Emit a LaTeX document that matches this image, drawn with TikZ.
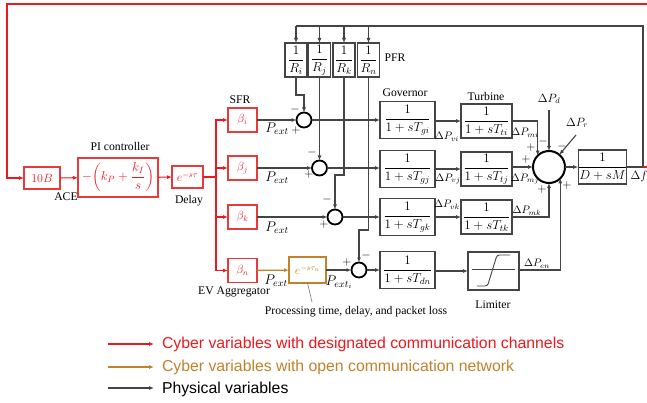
\RequirePackage{fix-cm}
\documentclass[tikz,border=0pt]{standalone}
\usepackage{amsmath}
\usepackage{fontspec}
\setmainfont{Liberation Serif}
\newfontfamily\legendfont{Liberation Sans}
\usetikzlibrary{arrows.meta,calc}

\definecolor{cyber}{RGB}{238,24,30}
\definecolor{cyberbox}{RGB}{232,58,58}
\definecolor{opennet}{RGB}{194,130,42}
\definecolor{phys}{RGB}{68,68,68}

\begin{document}
\begin{tikzpicture}[x=1pt,y=-1pt,
  >={Latex[length=5pt,width=4pt]},
  every node/.style={inner sep=0pt,outer sep=0pt},
  mathfont/.style={font=\fontsize{13}{15}\selectfont},
  smallmath/.style={font=\fontsize{12}{14}\selectfont},
  lblfont/.style={font=\fontsize{11.7}{14}\selectfont},
  legfont/.style={font=\legendfont\fontsize{15.8}{18}\selectfont},
  pline/.style={draw=phys,line width=1.1pt},
  cline/.style={draw=cyber,line width=1.1pt},
  oline/.style={draw=opennet,line width=1.3pt},
  pbox/.style={draw=phys,line width=1.1pt,fill=white,mathfont},
  cbox/.style={draw=cyberbox,line width=1.1pt,fill=white,text=cyber,smallmath},
  obox/.style={draw=opennet,line width=1.1pt,fill=white,text=opennet,smallmath},
  smallsum/.style={circle,draw=black,line width=1.8pt,fill=white,minimum size=15pt},
  bigsum/.style={circle,draw=black,line width=2pt,fill=white,minimum size=32pt},
  sgn/.style={font=\fontsize{12}{14}\selectfont},
  pext/.style={font=\fontsize{14}{16}\selectfont},
  dplbl/.style={font=\fontsize{10.8}{12}\selectfont},
  dlbl/.style={font=\fontsize{12}{14}\selectfont},
]
\useasboundingbox (0,0) rectangle (647,403);
\clip (0,0) rectangle (647,403);
\fill[white] (0,0) rectangle (647,403);

% ---------- secondary control chain ----------
\node[cbox,minimum width=36,minimum height=22] (tenB) at (42,178) {$10B$};
\node[cbox,font=\fontsize{13}{15}\selectfont,minimum width=80,minimum height=39] (pi) at (118,177.5)
  {$-\biggl(k_P+\dfrac{k_I}{s}\biggr)$};
\node[cbox,minimum width=31,minimum height=22] (delay) at (187.5,177) {$e^{-s\tau}$};

\node[lblfont] (aceL) at (66,197) {ACE};
\node[lblfont] (piL) at (120,146.5) {PI controller};
\node[lblfont] (delayL) at (189,201) {Delay};

% participation factors
\node[cbox,minimum width=29,minimum height=24] (bi) at (242.5,120) {$\beta_i$};
\node[cbox,minimum width=29,minimum height=24] (bj) at (242.5,168) {$\beta_j$};
\node[cbox,minimum width=29,minimum height=24] (bk) at (242.5,217) {$\beta_k$};
\node[cbox,minimum width=29,minimum height=24] (bn) at (242.5,270.5) {$\beta_n$};
\node[lblfont] (sfrL) at (240,100) {SFR};
\node[lblfont] (evL) at (234,292) {EV Aggregator};

% EV communication block
\node[obox,minimum width=37,minimum height=26] (ev) at (307.5,270) {$e^{-s\tau_n}$};
\node[lblfont] (procL) at (356,312) {Processing time, delay, and packet loss};
\coordinate (ptr) at (312,302);

% ---------- summing junctions ----------
\node[smallsum] (si) at (304,120) {};
\node[smallsum] (sj) at (319.5,168) {};
\node[smallsum] (sk) at (335,217) {};
\node[smallsum] (sn) at (359,270) {};

% droop blocks
\node[pbox,minimum width=22,minimum height=34] (Ri) at (296,60) {$\dfrac{1}{R_i}$};
\node[pbox,minimum width=22,minimum height=34] (Rj) at (319.5,60) {$\dfrac{1}{R_j}$};
\node[pbox,minimum width=22,minimum height=34] (Rk) at (344,60) {$\dfrac{1}{R_k}$};
\node[pbox,minimum width=22,minimum height=34] (Rn) at (368.5,60) {$\dfrac{1}{R_n}$};
\node[lblfont] (pfrL) at (395,58) {PFR};

% governors
\node[pbox,minimum width=55,minimum height=37] (gi) at (407.5,120) {$\dfrac{1}{1+sT_{gi}}$};
\node[pbox,minimum width=55,minimum height=37] (gj) at (407.5,169) {$\dfrac{1}{1+sT_{gj}}$};
\node[pbox,minimum width=55,minimum height=37] (gk) at (407.5,217) {$\dfrac{1}{1+sT_{gk}}$};
\node[pbox,minimum width=55,minimum height=37] (gn) at (407.5,270) {$\dfrac{1}{1+sT_{dn}}$};
\node[lblfont] (govL) at (405,93) {Governor};

% turbines
\node[pbox,minimum width=51,minimum height=34] (ti) at (486.5,121) {$\dfrac{1}{1+sT_{ti}}$};
\node[pbox,minimum width=51,minimum height=34] (tj) at (486.5,169) {$\dfrac{1}{1+sT_{tj}}$};
\node[pbox,minimum width=51,minimum height=34] (tk) at (486.5,217) {$\dfrac{1}{1+sT_{tk}}$};
\node[lblfont] (turL) at (486,96) {Turbine};

% limiter
\node[pbox,minimum width=51,minimum height=38] (lim) at (493.5,271) {};
\draw[phys,line width=0.8pt] ($(lim.center)+(-21.5,-2)$) -- ($(lim.center)+(21.5,-2)$);
\draw[phys,line width=0.9pt,rounded corners=2.5pt]
  ($(lim.center)+(-16.5,15)$) -- ($(lim.center)+(-6,15)$)
  -- ($(lim.center)+(3.5,-16)$) -- ($(lim.center)+(16.5,-16)$);
\node[lblfont] (limL) at (493,305) {Limiter};

% power balance
\node[bigsum] (sum) at (549,167) {};
\node[pbox,minimum width=47,minimum height=34] (plant) at (602.5,167) {$\dfrac{1}{D+sM}$};

% ---------- physical connections ----------
\draw[pline,->] (bi) -- (si);
\draw[pline,->] (bj) -- (sj);
\draw[pline,->] (bk) -- (sk);
\draw[pline,->] (ev) -- (sn);

\draw[pline,->] (si) -- (gi.west |- si);
\draw[pline,->] (sj) -- (gj.west |- sj);
\draw[pline,->] (sk) -- (gk.west |- sk);
\draw[pline,->] (sn) -- (gn.west |- sn);

\draw[pline,->] (gi.east |- ti) -- (ti.west);
\draw[pline,->] (gj.east |- tj) -- (tj.west);
\draw[pline,->] (gk.east |- tk) -- (tk.west);
\draw[pline,->] (gn.east |- lim) -- (lim.west);

\draw[pline,->] (ti.east) -| (sum.north west);
\draw[pline,->] (tj.east |- sum) -- (sum.west);
\draw[pline,->] (tk.east) -| (sum.south);
\draw[pline,->] (lim.east |- 0,270) -| (sum.south east);
\draw[pline,->] (sum.east) -- (plant.west);

% disturbances
\coordinate (pdTail) at (549,110);
\coordinate (prTail) at (576,135);
\draw[pline,->] (pdTail) -- (sum.north);
\draw[pline,->] (prTail) -- (sum);

% droop feedback
\coordinate (fbc) at (643,167);
\coordinate (ftop) at (643,26);
\draw[pline] (plant.east) -- (fbc) -- (ftop) -- (Ri.north |- ftop);
\draw[pline,->] (Ri.north |- ftop) -- (Ri.north);
\draw[pline,->] (Rj.north |- ftop) -- (Rj.north);
\draw[pline,->] (Rk.north |- ftop) -- (Rk.north);
\draw[pline,->] (Rn.north |- ftop) -- (Rn.north);

\draw[pline,->] (Ri.south) -- (296,95) -| (si.north);
\draw[pline,->] (Rj.south) -- (sj.north);
\draw[pline,->] (Rk.south) -- (344,175) -| (sk.north);
\draw[pline,->] (Rn.south) -- (368.5,230) -| (sn.north);

% ---------- cyber connections ----------
\coordinate (redR) at (652,167);
\coordinate (redTR) at (652,4);
\coordinate (redTL) at (7,4);
\draw[cline,->] (fbc) -- (redR) -- (redTR) -- (redTL) |- (tenB.west);
\draw[cline,->] (tenB) -- (pi);
\draw[cline,->] (pi) -- (delay);
\coordinate (split) at (216,177);
\draw[cline] (delay.east) -- (split);
\draw[cline,->] (split) |- (bi.west);
\draw[cline,->] (split) |- (bj.west);
\draw[cline,->] (split) |- (bk.west);
\draw[cline,->] (split) |- (bn.west);
\draw[oline,->] (bn) -- (ev);
\draw[phys!70,line width=0.6pt] (ev.south) -- (ptr);

% ---------- signal labels ----------
\node[pext] (pe1) at (277,129) {$P_{ext}$};
\node[pext] (pe2) at (277,178) {$P_{ext}$};
\node[pext] (pe3) at (277,228) {$P_{ext}$};
\node[pext] (pe4) at (276,281) {$P_{ext}$};
\node[pext] (pei) at (339,282) {$P_{ext_i}$};

\node[dplbl] (dpvi) at (447,137) {$\Delta P_{vi}$};
\node[dplbl] (dpvj) at (448,179) {$\Delta P_{vj}$};
\node[dplbl] (dpvk) at (447,205) {$\Delta P_{vk}$};
\node[dplbl] (dpmi) at (525,133) {$\Delta P_{mi}$};
\node[dplbl] (dpmj) at (525,179) {$\Delta P_{mj}$};
\node[dplbl] (dpmk) at (527,211) {$\Delta P_{mk}$};
\node[dplbl] (dpen) at (537,264) {$\Delta P_{en}$};
\node[dlbl] (dpd) at (549,99) {$\Delta P_d$};
\node[dlbl] (dpr) at (577,123) {$\Delta P_r$};
\node[dlbl] (df) at (639,177) {$\Delta f$};

% signs
\node[sgn] (m1) at (295,110) {$-$};
\node[sgn] (p1) at (296,131) {$+$};
\node[sgn] (m2) at (312,153) {$-$};
\node[sgn] (p2) at (309,175) {$+$};
\node[sgn] (m3) at (327,200) {$-$};
\node[sgn] (p3) at (324,225) {$+$};
\node[sgn] (p4) at (347,262) {$+$};
\node[sgn] (m4) at (366,255) {$-$};
\node[sgn] (m5) at (543,142) {$-$};
\node[sgn] (m6) at (562,147) {$-$};
\node[sgn] (p5) at (531,148) {$+$};
\node[sgn] (p6) at (526,160) {$+$};
\node[sgn] (p7) at (542,190) {$+$};
\node[sgn] (p8) at (567,186) {$+$};

% ---------- legend ----------
\coordinate (l1a) at (108,344); \coordinate (l1b) at (154,344);
\coordinate (l2a) at (108,367); \coordinate (l2b) at (154,367);
\coordinate (l3a) at (108,388); \coordinate (l3b) at (154,388);
\draw[cline,->] (l1a) -- (l1b);
\draw[oline,->] (l2a) -- (l2b);
\draw[pline,->] (l3a) -- (l3b);
\node[legfont,text=cyber,anchor=west] (leg1) at (162,344) {Cyber variables with designated communication channels};
\node[legfont,text=opennet,anchor=west] (leg2) at (162,367) {Cyber variables with open communication network};
\node[legfont,text=black,anchor=west] (leg3) at (162,389) {Physical variables};
\end{tikzpicture}
\end{document}
